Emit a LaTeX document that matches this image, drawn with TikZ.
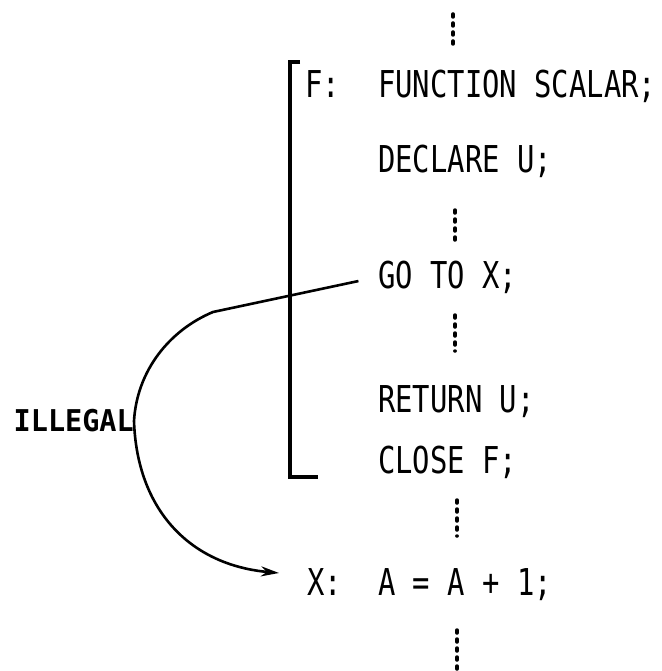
\documentclass[tikz,border=0pt]{standalone}
\usepackage{fontspec}
\newfontfamily\codefont[FakeStretch=0.78]{DejaVu Sans Mono}
\newfontfamily\illfont[FakeStretch=0.95]{DejaVu Sans Mono Bold}
\usetikzlibrary{arrows.meta}
\begin{document}
\begin{tikzpicture}[x=1pt,y=-1pt,
  code/.style={anchor=base west,inner sep=0pt,font=\codefont\fontsize{37}{40}\selectfont},
  dots/.style={line width=3.5pt,line cap=round,dash pattern=on 3pt off 6pt},
  bracket/.style={line width=3.2pt},
  jump/.style={line width=2.6pt,-{Stealth[length=18pt,width=10pt]}}]
\useasboundingbox (0,0) rectangle (661,671);
% code lines
\node[code] (flab) at (305,98) {F:};
\node[code] (fun) at (378,98) {FUNCTION SCALAR;};
\node[code] (decl) at (378,172) {DECLARE U;};
\node[code] (goto) at (378,288) {GO TO X;};
\node[code] (ret) at (378,412) {RETURN U;};
\node[code] (close) at (378,473) {CLOSE F;};
\node[code] (xlab) at (307,595) {X:};
\node[code] (assign) at (378,595) {A = A + 1;};
\node[anchor=east,inner sep=0pt,font=\illfont\fontsize{30}{32}\selectfont] (ill) at (134,421) {ILLEGAL};
% dotted continuation marks
\draw[dots] (453,14) -- (453,50);
\draw[dots] (455,210) -- (455,246);
\draw[dots] (455,315) -- (455,351);
\draw[dots] (457,500) -- (457,536);
\draw[dots] (457,630) -- (457,671);
% bracket around function
\draw[bracket] (300,62) -- (290,62) -- (290,477) -- (318,477);
% illegal jump
\coordinate (bend) at (213,312);
\coordinate (tip) at (279,573);
\draw[jump,shorten <=20pt] (goto.west) -- (bend)
  .. controls (170,330) and (137,370) .. (ill.east)
  .. controls (137,510) and (190,565) .. (tip);
\end{tikzpicture}
\end{document}
